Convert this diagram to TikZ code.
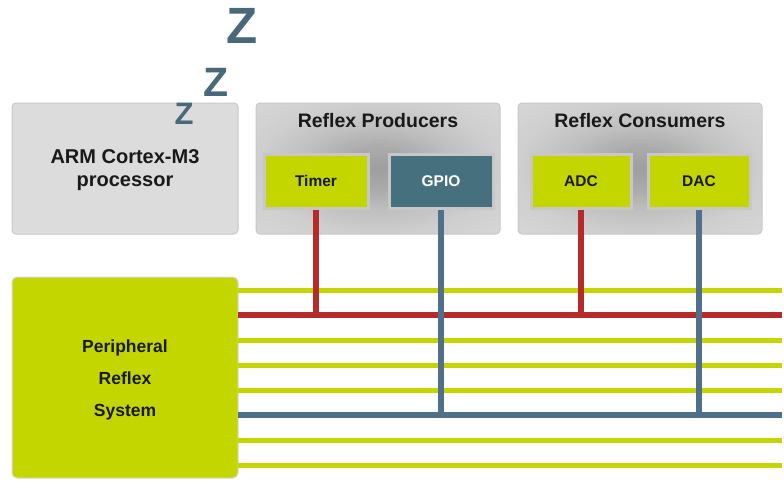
\documentclass[tikz,border=0pt]{standalone}
\usepackage{fontspec}
\setmainfont{Liberation Sans}
\definecolor{lime}{HTML}{C4D600}
\definecolor{teal}{HTML}{46707E}
\definecolor{busblue}{HTML}{4F6F8A}
\definecolor{busred}{HTML}{B52A2A}
\definecolor{zcol}{HTML}{47697A}
\definecolor{boxgray}{HTML}{DCDCDC}
\definecolor{boxedge}{HTML}{C8C8C8}
\pgfdeclareradialshading{boxshade}{\pgfpoint{0bp}{0bp}}{color(0bp)=(black!38); color(8bp)=(black!33); color(16bp)=(black!25); color(25bp)=(black!19); color(35bp)=(black!16); color(50bp)=(black!15)}
\tikzset{
  x=1pt, y=-1pt,
  greybox/.style={draw=boxedge, line width=1pt, rounded corners=4pt, fill=boxgray},
  shadebox/.style={draw=boxedge, line width=1pt, rounded corners=4pt, shading=boxshade},
  limebox/.style={draw=black!22, line width=3pt, fill=lime, minimum width=104pt, minimum height=54pt, font=\bfseries\fontsize{15.5}{17}\selectfont, text=black!90},
  gpiobox/.style={limebox, fill=teal, text=white},
  title/.style={font=\bfseries\fontsize{19.5}{22}\selectfont, text=black!90},
  lineg/.style={draw=lime, line width=5pt},
  liner/.style={draw=busred, line width=5.5pt},
  lineb/.style={draw=busblue, line width=5.5pt},
  zz/.style={text=zcol},
}
\begin{document}
\begin{tikzpicture}
\useasboundingbox (0,0) rectangle (784,496);
% Z's
\node[zz, font=\bfseries\fontsize{51}{51}\selectfont] (z1) at (242,26) {Z};
\node[zz, font=\bfseries\fontsize{41}{41}\selectfont] (z2) at (216,82) {Z};
% ARM box
\draw[greybox] (12,103) rectangle (238,234);
\node[title, font=\bfseries\fontsize{20}{23}\selectfont, align=center] (arm) at (125,170) {ARM Cortex-M3\\processor};
\node[zz, font=\bfseries\fontsize{31}{31}\selectfont] (z3) at (184,114) {Z};
% Producers
\draw[shadebox] (256,103) rectangle (500,234);
\node[title] (prod) at (378,121) {Reflex Producers};
% Consumers
\draw[shadebox] (518,103) rectangle (762,234);
\node[title] (cons) at (640,121) {Reflex Consumers};
% Peripheral box
\draw[fill=lime, draw=black!15, line width=1pt, rounded corners=5pt] (12,277) rectangle (238,478);
\node[font=\bfseries\fontsize{17.5}{32}\selectfont, align=center, text=black!90] (prs) at (125,380) {Peripheral\\Reflex\\System};
% bus lines
\foreach \y in {290,340,365,390,440,465} \draw[lineg] (238,\y) -- (782,\y);
\coordinate (rbL) at (238,315); \coordinate (rbR) at (782,315);
\coordinate (bbL) at (238,415); \coordinate (bbR) at (782,415);
\draw[liner] (rbL) -- (rbR);
\draw[lineb] (bbL) -- (bbR);
% peripherals
\node[limebox] (timer) at (316,181) {Timer};
\node[gpiobox] (gpio) at (441,181) {GPIO};
\node[limebox, minimum width=100pt] (adc) at (581,181) {ADC};
\node[limebox, minimum width=102pt] (dac) at (699,181) {DAC};
% connectors
\draw[liner] (timer.south) -- (timer.south |- rbL);
\draw[lineb] (gpio.south) -- (gpio.south |- bbL);
\draw[liner] (adc.south) -- (adc.south |- rbL);
\draw[lineb] (dac.south) -- (dac.south |- bbL);
\end{tikzpicture}
\end{document}
